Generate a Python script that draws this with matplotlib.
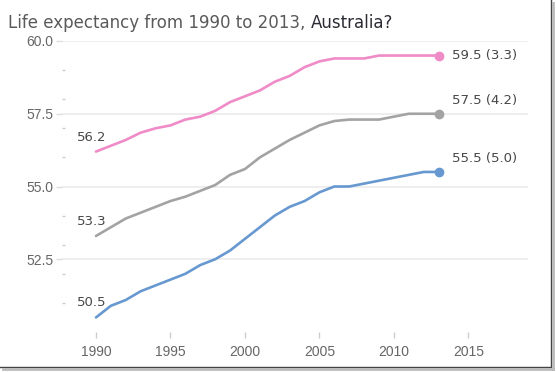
import matplotlib
matplotlib.use("Agg")
import matplotlib.pyplot as plt
from matplotlib.lines import Line2D

# data
years = list(range(1990, 2014))
pink = [56.2, 56.4, 56.6, 56.85, 57.0, 57.1, 57.3, 57.4, 57.6, 57.9, 58.1, 58.3,
        58.6, 58.8, 59.1, 59.3, 59.4, 59.4, 59.4, 59.5, 59.5, 59.5, 59.5, 59.5]
gray = [53.3, 53.6, 53.9, 54.1, 54.3, 54.5, 54.65, 54.85, 55.05, 55.4, 55.6, 56.0,
        56.3, 56.6, 56.85, 57.1, 57.25, 57.3, 57.3, 57.3, 57.4, 57.5, 57.5, 57.5]
blue = [50.5, 50.9, 51.1, 51.4, 51.6, 51.8, 52.0, 52.3, 52.5, 52.8, 53.2, 53.6,
        54.0, 54.3, 54.5, 54.8, 55.0, 55.0, 55.1, 55.2, 55.3, 55.4, 55.5, 55.5]
series = [pink, gray, blue]
colors = ["#EF8BC7", "#A3A3A3", "#6798D0"]
end_dy = [0, 13, 13]  # pixel lift of the end labels

x_ticks = [1990, 1995, 2000, 2005, 2010, 2015]
y_ticks = [52.5, 55.0, 57.5, 60.0]

W, H = 556, 372
fig = plt.figure(figsize=(W / 100, H / 100), dpi=100)
ax = fig.add_axes([62 / W, (H - 332) / H, 466 / W, 291 / H])
ax.set_xlim(1987.72, 2019.0)
ax.set_ylim(50.0, 60.0)

for s in ["top", "right", "bottom", "left"]:
    ax.spines[s].set_visible(False)

ax.set_yticks(y_ticks)
ax.set_yticklabels([f"{v:.1f}" for v in y_ticks])
ax.set_yticks(range(51, 60), minor=True)
ax.set_xticks(x_ticks)
ax.set_xticklabels([str(v) for v in x_ticks])
ax.grid(axis="y", color="#EBEBEB", linewidth=1.2)
ax.tick_params(axis="y", which="major", length=4, color="#DDDDDD", width=1,
               pad=2, labelsize=10, labelcolor="#666666")
ax.tick_params(axis="y", which="minor", direction="in", length=2,
               color="#CCCCCC", width=1)
ax.tick_params(axis="x", length=4, color="#CCCCCC", width=1, pad=5,
               labelsize=10, labelcolor="#666666")
for lab in ax.get_xticklabels() + ax.get_yticklabels():
    lab.set_fontfamily("Liberation Sans")

for vals, c, dy in zip(series, colors, end_dy):
    ax.plot(years, vals, color=c, linewidth=1.9, solid_capstyle="round")
    ax.plot(years[-1], vals[-1], "o", color=c, markersize=6)
    ax.annotate(f"{vals[0]:.1f}", (years[0], vals[0]), xytext=(-4, 8),
                textcoords="offset pixels", ha="center", va="bottom",
                fontsize=9.5, color="#474747", fontfamily="DejaVu Sans")
    ax.annotate(f"{vals[-1]:.1f} ({vals[-1] - vals[0]:.1f})",
                (years[-1], vals[-1]), xytext=(13, dy),
                textcoords="offset pixels", ha="left", va="center",
                fontsize=9.5, color="#474747", fontfamily="DejaVu Sans")

# title in two tones
t1 = fig.text(8 / W, (H - 28) / H, "Life expectancy from 1990 to 2013, ",
              fontsize=12, color="#5A5A5A", fontfamily="DejaVu Sans")
fig.canvas.draw()
bb = t1.get_window_extent()
fig.text(bb.x1 / W, (H - 28) / H, "Australia?", fontsize=12,
         color="#2B2B35", fontfamily="DejaVu Sans")

# screenshot frame on the right and bottom
fig.add_artist(Line2D([551 / W, 551 / W], [1, (H - 367) / H],
                      transform=fig.transFigure, color="#444444", linewidth=1))
fig.add_artist(Line2D([0, 551 / W], [(H - 367) / H, (H - 367) / H],
                      transform=fig.transFigure, color="#444444", linewidth=1))
fig.add_artist(Line2D([553 / W, 553 / W], [1 - 3 / H, (H - 369) / H],
                      transform=fig.transFigure, color="#BBBBBB", linewidth=2))
fig.add_artist(Line2D([3 / W, 553 / W], [(H - 369) / H, (H - 369) / H],
                      transform=fig.transFigure, color="#BBBBBB", linewidth=2))

fig.savefig("out.png", dpi=100)
